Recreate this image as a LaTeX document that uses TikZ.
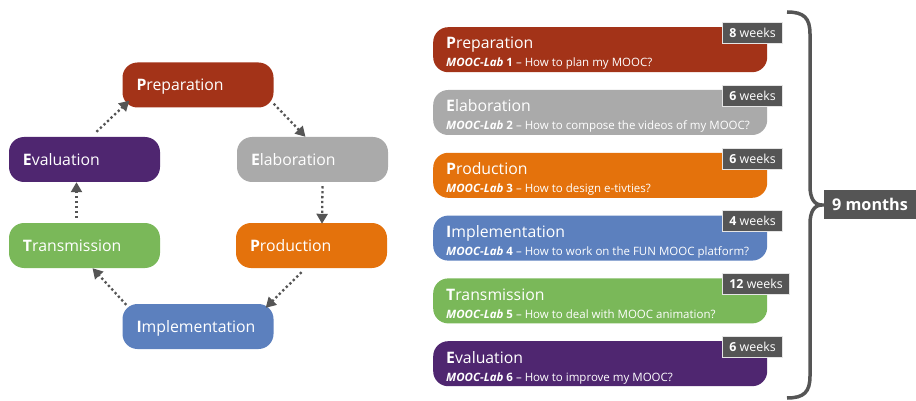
\documentclass[tikz,border=0pt]{standalone}
\usepackage{fontspec}
\setmainfont{Open Sans}
\usetikzlibrary{arrows.meta,calc}

\definecolor{cPrep}{RGB}{163,51,24}
\definecolor{cElab}{RGB}{170,170,170}
\definecolor{cProd}{RGB}{228,114,12}
\definecolor{cImpl}{RGB}{92,128,190}
\definecolor{cTrans}{RGB}{122,184,89}
\definecolor{cEval}{RGB}{79,38,112}
\definecolor{dgray}{RGB}{85,85,85}

\tikzset{
  phase/.style={fill=#1, rounded corners=15pt, minimum height=45pt,
    text width=123pt, inner xsep=14pt, inner ysep=0pt, align=left,
    text=white, text depth=0pt, font=\fontsize{15.8}{18}\selectfont},
  flow/.style={draw=dgray, line width=2.3pt, dash pattern=on 2.3pt off 2.6pt,
    -{Triangle[length=10pt,width=11pt]}},
  bar/.style={fill=#1, rounded corners=15pt, minimum width=334pt,
    minimum height=45pt, inner sep=0pt, anchor=north west},
  bartitle/.style={anchor=base west, inner sep=0pt, text=white,
    font=\fontsize{15.8}{18}\selectfont},
  barsub/.style={anchor=base west, inner sep=0pt, text=white,
    font=\fontsize{11.5}{13}\selectfont},
  weeks/.style={anchor=north west, fill=dgray, draw=white!80!gray,
    line width=0.8pt, minimum height=21pt, inner xsep=7pt, inner ysep=0pt,
    text=white, font=\fontsize{12.4}{14}\selectfont},
  total/.style={fill=dgray, minimum width=92pt, minimum height=29pt,
    inner sep=0pt, text=white, font=\bfseries\fontsize{16.2}{18}\selectfont},
}

\begin{document}
\begin{tikzpicture}[x=1pt,y=-1pt]
  \useasboundingbox (0,0) rectangle (916,401);

  % ---- cycle of the six phases ----
  \node[phase=cPrep]  (prepL)  at (198,85)     {\textbf{P}reparation};
  \node[phase=cElab]  (elabL)  at (312.5,159.5) {\textbf{E}laboration};
  \node[phase=cProd]  (prodL)  at (311.5,245.5) {\textbf{P}roduction};
  \node[phase=cImpl]  (implL)  at (198,326.5)  {\textbf{I}mplementation};
  \node[phase=cTrans] (transL) at (84.5,245.5) {\textbf{T}ransmission};
  \node[phase=cEval]  (evalL)  at (84.5,159.5) {\textbf{E}valuation};

  \draw[flow] ($(prepL.south east)+(0,-4)$)  -- ($(elabL.north)+(-7,0)$);
  \draw[flow] ($(elabL.south)+(10,4)$)       -- ($(prodL.north)+(10.5,1)$);
  \draw[flow] ($(prodL.south)+(-10,4)$)      -- ($(implL.north east)+(-8,4)$);
  \draw[flow] ($(implL.north west)+(4,1)$)   -- ($(transL.south)+(8,0)$);
  \draw[flow] ($(transL.north)+(-8,-5)$)     -- ($(evalL.south)+(-8,0)$);
  \draw[flow] ($(evalL.north)+(12,-5)$)      -- ($(prepL.south west)+(7,-7)$);

  % ---- schedule of the MOOC-Labs ----
  \foreach \i/\top/\col/\ttl/\sub/\wk in {
    1/27/cPrep/{\textbf{P}reparation}/{How to plan my MOOC?}/8,
    2/89.8/cElab/{\textbf{E}laboration}/{How to compose the videos of my MOOC?}/6,
    3/152.6/cProd/{\textbf{P}roduction}/{How to design e-tivties?}/6,
    4/215.4/cImpl/{\textbf{I}mplementation}/{How to work on the FUN MOOC platform?}/4,
    5/278.2/cTrans/{\textbf{T}ransmission}/{How to deal with MOOC animation?}/12,
    6/341/cEval/{\textbf{E}valuation}/{How to improve my MOOC?}/6} {
    \node[bar=\col] (bar\i) at (433,\top) {};
    \node[bartitle] (title\i) at (446,\top+22) {\ttl};
    \node[barsub] (sub\i) at (446,\top+40)
      {\textbf{\textit{MOOC-Lab}} \textbf{\i} -- \sub};
    \node[weeks] (wk\i) at (722,\top-5) {\textbf{\wk} weeks};
  }

  % ---- overall duration ----
  \draw[dgray, line width=3.5pt]
    (787,12) .. controls (804,12) and (810,18) .. (810,34)
    -- (810,186) .. controls (810,198) and (814,205) .. (822,205)
    .. controls (814,205) and (810,212) .. (810,224)
    -- (810,376) .. controls (810,392) and (804,398) .. (787,398);
  \node[total] (months) at (870,204.5) {9 months};
\end{tikzpicture}
\end{document}
